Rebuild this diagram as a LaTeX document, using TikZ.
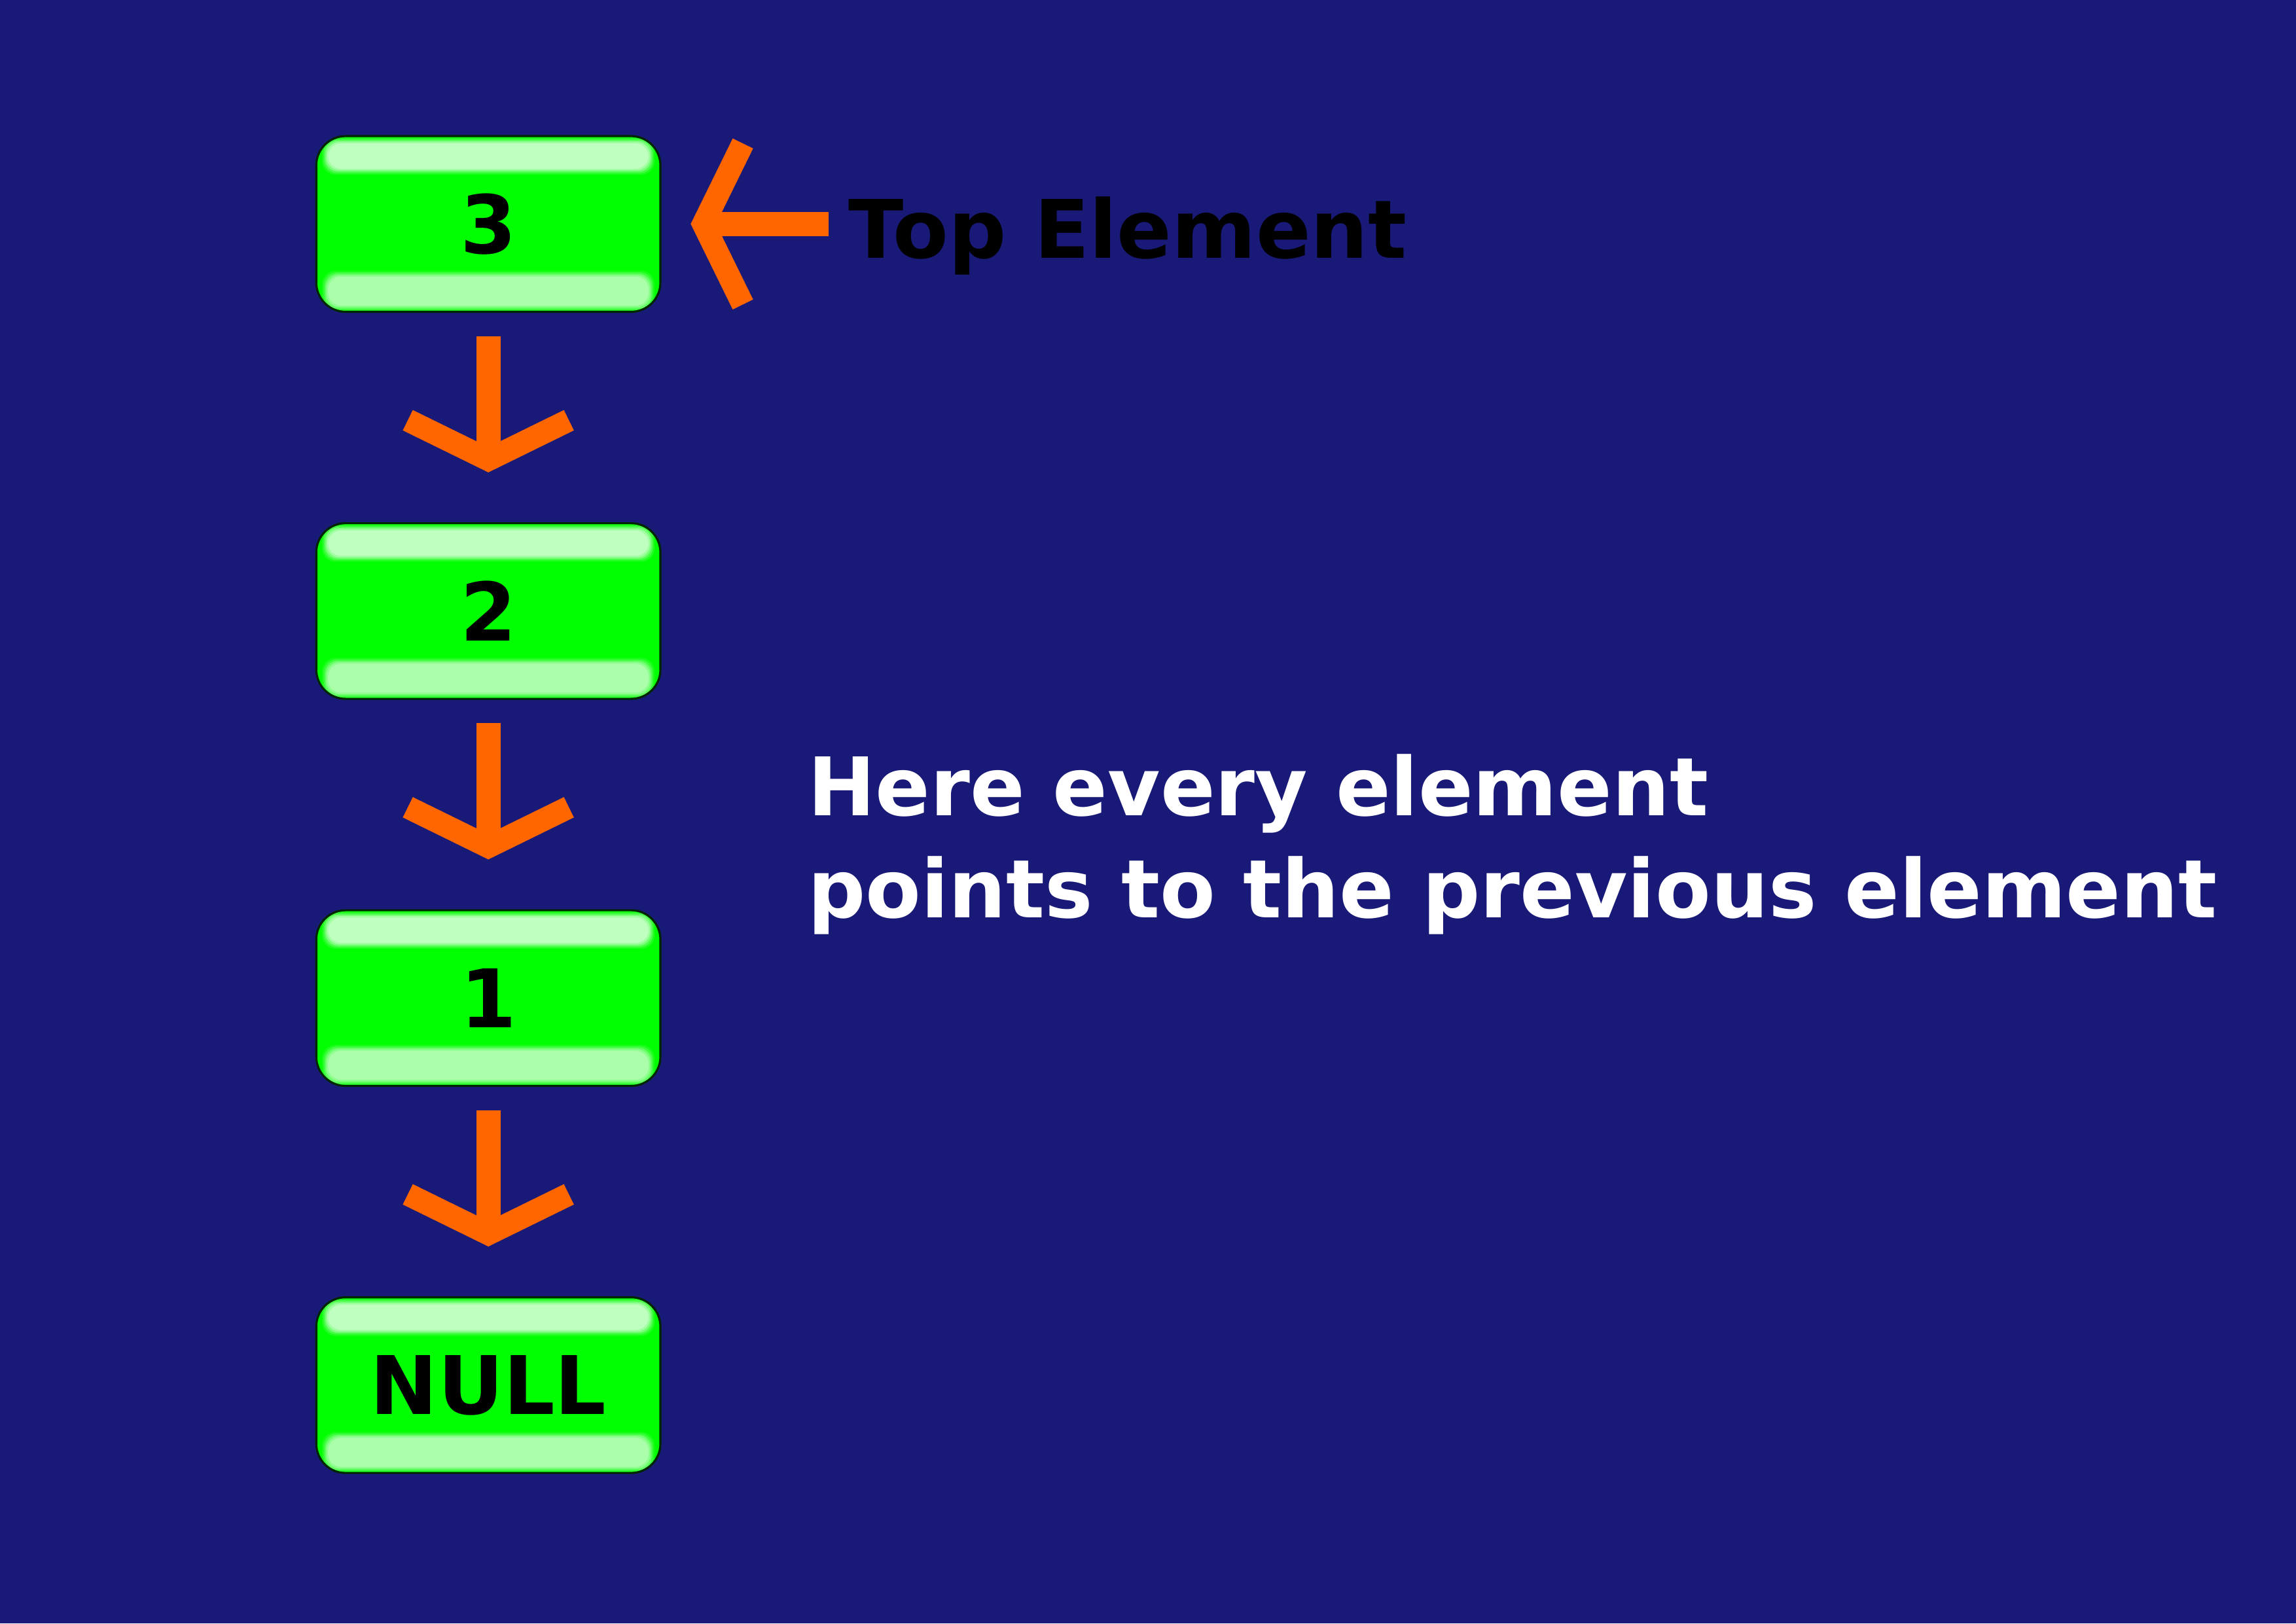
\documentclass[tikz,border=0pt]{standalone}
\usepackage{fontspec}
\setmainfont{DejaVu Sans}
\usetikzlibrary{arrows.meta,positioning}
\definecolor{bgblue}{HTML}{191978}
\definecolor{linkorange}{HTML}{FF6600}
\definecolor{cellgreen}{HTML}{00FF00}

\begin{document}
\begin{tikzpicture}[
    font=\fontsize{15.7}{19.9}\selectfont\bfseries,
    cell/.style={draw=black!85!green, line width=0.4pt, fill=cellgreen, rounded corners=0.2cm, minimum width=2.35cm, minimum height=1.2cm, inner sep=0pt,
      path picture={
        \foreach \g/\c/\d in {0.03/88/90, 0.02/72/76, 0.01/52/58, 0/36/44, -0.01/25/33} {
          \fill[cellgreen!\c!white, rounded corners=0.09cm] ([shift={(0.07-\g,-0.04+\g)}]path picture bounding box.north west) rectangle ([shift={(-0.07+\g,-0.233-\g)}]path picture bounding box.north east);
          \fill[cellgreen!\d!white, rounded corners=0.09cm] ([shift={(0.07-\g,0.032-\g)}]path picture bounding box.south west) rectangle ([shift={(-0.07+\g,0.25+\g)}]path picture bounding box.south east);
        }
      }},
    link/.style={draw=linkorange, line width=0.165cm, -{Straight Barb[length=0.27cm, width=1.1cm, line width=0.155cm 0 0]}}
]
\fill[bgblue] (0,0) rectangle (15.68,-11.09);
\node[cell] (n3) at (3.335,-1.53) {3};
\node[cell, below=1.43cm of n3] (n2) {2};
\node[cell, below=1.43cm of n2] (n1) {1};
\node[cell, below=1.43cm of n1] (null) {NULL};
\node[right=1.27cm of n3, yshift=-0.08cm, inner sep=0pt] (top) {Top Element};
\node[anchor=base west, align=left, text=white, inner sep=0pt] (note) at (5.51,-6.27) {Here every element\\points to the previous element};
\draw[link, shorten <=0.13cm, shorten >=0.2cm] (top.west |- n3.east) -- (n3.east);
\draw[link, shorten <=0.16cm, shorten >=0.34cm] (n3) -- (n2);
\draw[link, shorten <=0.16cm, shorten >=0.34cm] (n2) -- (n1);
\draw[link, shorten <=0.16cm, shorten >=0.34cm] (n1) -- (null);
\end{tikzpicture}
\end{document}
